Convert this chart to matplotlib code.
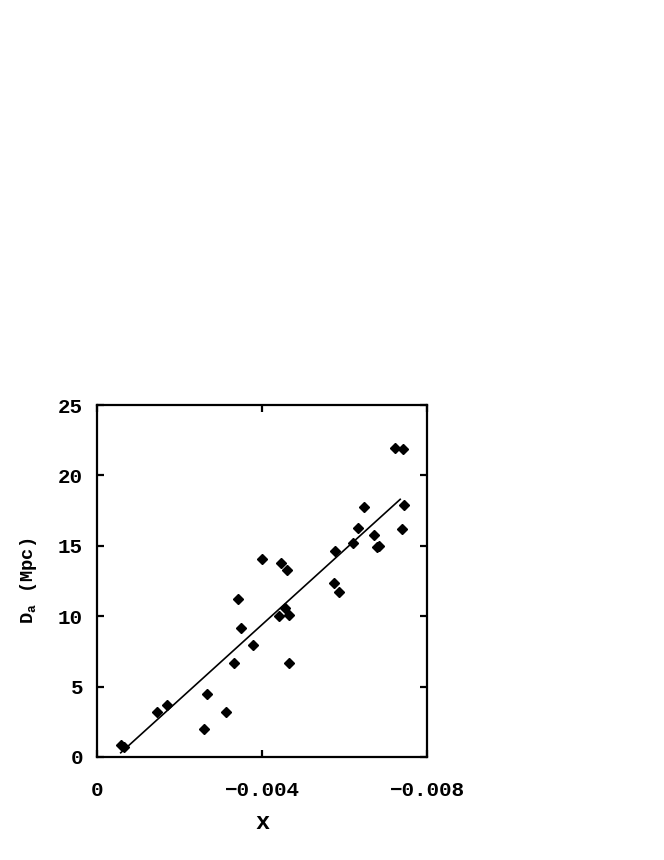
import matplotlib
matplotlib.use("Agg")
import matplotlib.pyplot as plt

# data
x_vals = [-0.00057, -0.00066, -0.00145, -0.00169, -0.00260, -0.00266, -0.00313,
          -0.00332, -0.00341, -0.00349, -0.00379, -0.00400, -0.00442, -0.00445,
          -0.00460, -0.00456, -0.00466, -0.00466, -0.00577, -0.00575, -0.00587,
          -0.00621, -0.00632, -0.00647, -0.00671, -0.00678, -0.00684, -0.00722,
          -0.00743, -0.00739, -0.00745]
y_vals = [0.85, 0.71, 3.22, 3.67, 2.01, 4.47, 3.17,
          6.65, 11.22, 9.16, 7.93, 14.08, 10.01, 13.80,
          13.26, 10.60, 10.09, 6.65, 14.65, 12.34, 11.70,
          15.22, 16.26, 17.73, 15.77, 14.88, 14.99, 21.97,
          21.88, 16.17, 17.90]
fit_x = [-0.000575, -0.00735]
fit_y = [0.3, 18.3]
xticks = [0, -0.004, -0.008]
xtick_labels = ["0", "\u22120.004", "\u22120.008"]
yticks = [0, 5, 10, 15, 20, 25]

plt.rcParams['font.family'] = ['Liberation Mono', 'DejaVu Sans Mono']
plt.rcParams['font.weight'] = 'bold'
plt.rcParams['mathtext.default'] = 'regular'

fig = plt.figure(figsize=(6.64, 8.6), dpi=100)
ax = fig.add_axes([97/664, 1-757/860, 330/664, 352/860])

ax.plot(fit_x, fit_y, color='black', lw=1.2)
ax.plot(x_vals, y_vals, linestyle='none', marker='D', markersize=4.8,
        color='black')

ax.set_xlim(0, -0.008)
ax.set_ylim(0, 25)
ax.set_xticks(xticks)
ax.set_xticklabels(xtick_labels)
ax.set_yticks(yticks)
for s in ax.spines.values():
    s.set_linewidth(1.6)
ax.tick_params(direction='in', length=5, width=1.6, top=True, right=True,
               labelsize=15)
ax.tick_params(axis='x', pad=17)
ax.tick_params(axis='y', pad=10)
for lab in ax.get_xticklabels() + ax.get_yticklabels():
    lab.set_fontweight('bold')

ax.set_xlabel('x', fontsize=17, fontweight='bold', labelpad=8)
ax.set_ylabel('D$_{a}$ (Mpc)', fontsize=13.5, fontweight='bold', labelpad=14)

fig.savefig('out.png', dpi=100)
